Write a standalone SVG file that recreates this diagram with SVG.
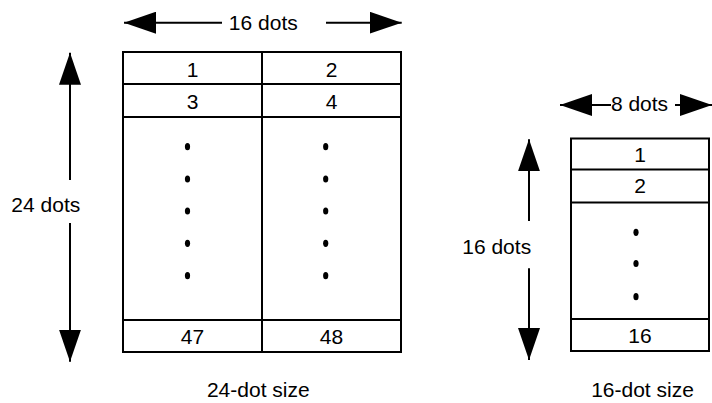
<svg xmlns="http://www.w3.org/2000/svg" width="712" height="403" viewBox="0 0 712 403">
<style>
text{font-family:"Liberation Sans",Arial,sans-serif;font-size:21px;fill:#000;text-anchor:middle}
.cell{fill:#fff;stroke:#000;stroke-width:2}
.ln{stroke:#000;stroke-width:2;fill:none}
.conn line{stroke:#000;stroke-width:2;marker-end:url(#ah)}
.dot{fill:#000}
</style>
<defs>
<marker id="ah" viewBox="0 0 32 22" refX="32" refY="11" markerWidth="32" markerHeight="22" markerUnits="userSpaceOnUse" orient="auto">
<path d="M0,0 L32,11 L0,22 Z" fill="#000"/>
</marker>
</defs>
<rect width="712" height="403" fill="#fff"/>
<g id="table24">
<rect class="cell" x="123" y="52" width="278" height="300"/>
<line class="ln" x1="123" y1="84" x2="401" y2="84"/>
<line class="ln" x1="123" y1="117" x2="401" y2="117"/>
<line class="ln" x1="123" y1="320" x2="401" y2="320"/>
<line class="ln" x1="262" y1="52" x2="262" y2="352"/>
<text x="192.5" y="76.5">1</text>
<text x="331.5" y="76.5">2</text>
<text x="192.5" y="108.5">3</text>
<text x="331.5" y="108.5">4</text>
<text x="192.5" y="343.5">47</text>
<text x="331.5" y="343.5">48</text>
<g class="dot">
<ellipse cx="187.5" cy="146.7" rx="2.6" ry="3.6"/>
<ellipse cx="187.5" cy="179" rx="2.6" ry="3.6"/>
<ellipse cx="187.5" cy="211" rx="2.6" ry="3.6"/>
<ellipse cx="187.5" cy="243.3" rx="2.6" ry="3.6"/>
<ellipse cx="187.5" cy="275.7" rx="2.6" ry="3.6"/>
<ellipse cx="325.7" cy="146.7" rx="2.6" ry="3.6"/>
<ellipse cx="325.7" cy="179" rx="2.6" ry="3.6"/>
<ellipse cx="325.7" cy="211" rx="2.6" ry="3.6"/>
<ellipse cx="325.7" cy="243.3" rx="2.6" ry="3.6"/>
<ellipse cx="325.7" cy="275.7" rx="2.6" ry="3.6"/>
</g>
<text x="258.3" y="396.5">24-dot size</text>
</g>
<g id="table16">
<rect class="cell" x="571" y="138.5" width="138" height="212.5"/>
<line class="ln" x1="571" y1="169.5" x2="709" y2="169.5"/>
<line class="ln" x1="571" y1="202.5" x2="709" y2="202.5"/>
<line class="ln" x1="571" y1="319" x2="709" y2="319"/>
<text x="640" y="161.7">1</text>
<text x="640" y="193.3">2</text>
<text x="640" y="342.7">16</text>
<g class="dot">
<ellipse cx="636" cy="232.3" rx="2.6" ry="3.6"/>
<ellipse cx="636" cy="263.5" rx="2.6" ry="3.6"/>
<ellipse cx="636" cy="296.7" rx="2.6" ry="3.6"/>
</g>
<text x="642.5" y="396.7">16-dot size</text>
</g>
<g id="label-16dots"><text x="263.3" y="30">16 dots</text></g>
<g id="label-24dots"><text x="45.8" y="211.7">24 dots</text></g>
<g id="label-8dots"><text x="639.5" y="110.7">8 dots</text></g>
<g id="label-16dots-v"><text x="496.7" y="253.5">16 dots</text></g>
<g id="connectors" class="conn">
<line x1="222" y1="22.7" x2="124" y2="22.7"/>
<line x1="326" y1="22.7" x2="401.7" y2="22.7"/>
<line x1="70" y1="180" x2="70" y2="52.7"/>
<line x1="70" y1="223" x2="70" y2="361.7"/>
<line x1="611" y1="105" x2="560" y2="105"/>
<line x1="675" y1="105" x2="712" y2="105"/>
<line x1="529" y1="221" x2="529" y2="139.3"/>
<line x1="529" y1="268.3" x2="529" y2="360"/>
</g>
</svg>
